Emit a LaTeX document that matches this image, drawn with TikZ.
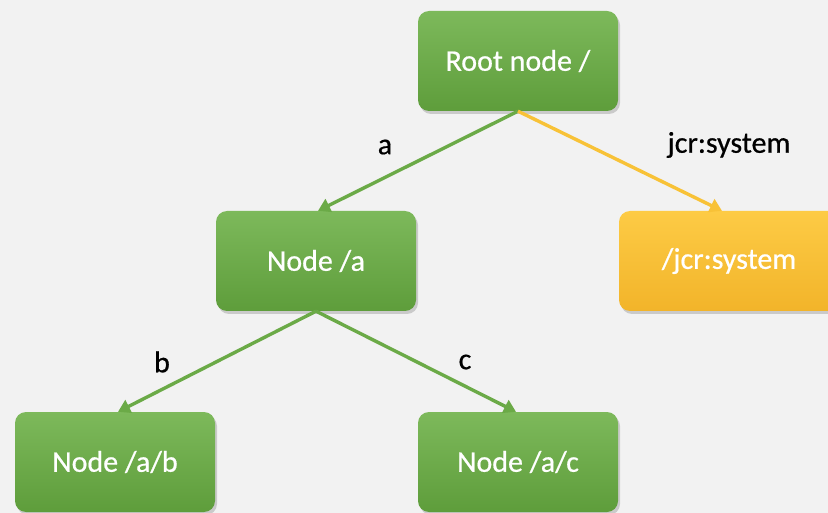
\documentclass[tikz,border=0pt]{standalone}
\usepackage{fontspec}
\setmainfont{Carlito}
\newfontfamily\heavyfont[FakeBold=0.6]{Carlito}
\usetikzlibrary{shadows,arrows.meta}
\definecolor{bg}{HTML}{F2F2F2}
\definecolor{gtop}{HTML}{7DB95B}
\definecolor{gbot}{HTML}{5E9D3B}
\definecolor{ytop}{HTML}{FDCB45}
\definecolor{ybot}{HTML}{F2B42A}
\definecolor{gline}{HTML}{6BAA47}
\definecolor{yline}{HTML}{F8C237}
\tikzset{
  box/.style={rounded corners=11pt, minimum width=200pt, minimum height=100pt,
    font=\heavyfont\fontsize{30}{34}\selectfont, text=white, inner sep=0pt,
    drop shadow={shadow xshift=2pt, shadow yshift=-3pt, opacity=0.35}},
  greenbox/.style={box, top color=gtop, bottom color=gbot},
  yellowbox/.style={box, top color=ytop, bottom color=ybot, minimum width=220pt},
  link/.style={line width=3.4pt, -{Triangle[length=12pt,width=14pt]}},
  glink/.style={link, gline},
  ylink/.style={link, yline},
  lbl/.style={font=\heavyfont\fontsize{30}{34}\selectfont, text=black}
}
\begin{document}
\begin{tikzpicture}[x=1pt,y=-1pt]
  \useasboundingbox[fill=bg] (0,0) rectangle (828,513);
  \node[greenbox] (root) at (518,61) {Root node /};
  \node[greenbox] (na) at (316,261) {Node /a};
  \node[yellowbox] (sys) at (729,261) {/jcr:system};
  \node[greenbox] (nab) at (115,462) {Node /a/b};
  \node[greenbox] (nac) at (518,462) {Node /a/c};
  \draw[glink] (root.south) -- ([xshift=2pt]na.north);
  \draw[ylink] (root.south) -- ([xshift=-7pt]sys.north);
  \draw[glink] (na.south) -- ([xshift=3pt]nab.north);
  \draw[glink] (na.south) -- ([xshift=-2pt]nac.north);
  \node[lbl] (la) at (385,147) {a};
  \node[lbl] (ls) at (729,145) {jcr:system};
  \node[lbl] (lb) at (162,362) {b};
  \node[lbl] (lc) at (465,362) {c};
\end{tikzpicture}
\end{document}
